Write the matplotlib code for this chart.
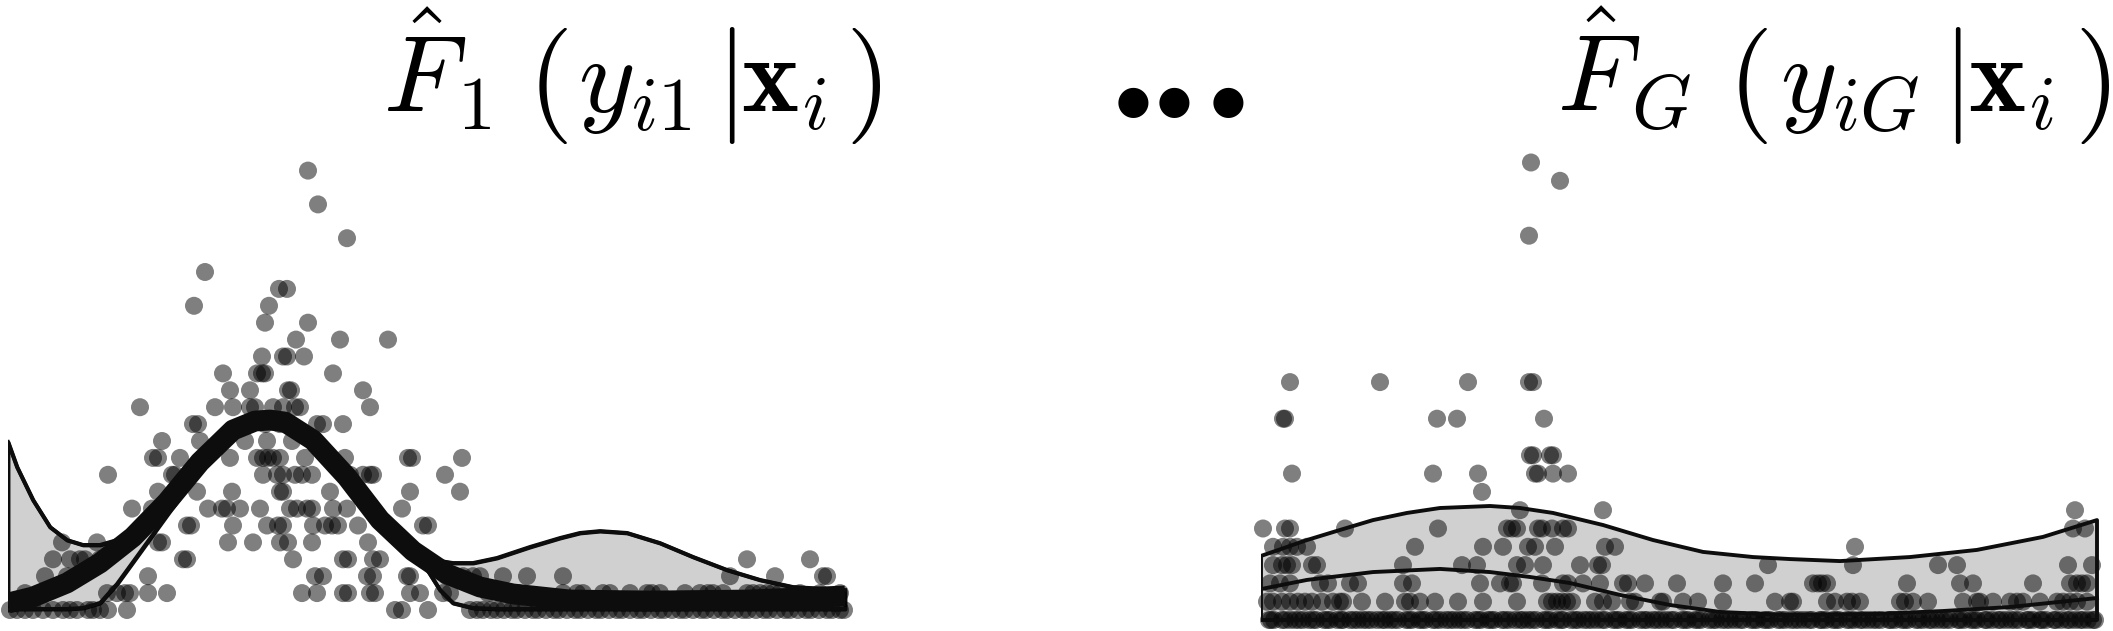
import matplotlib.pyplot as plt
import numpy as np

plt.rcParams['mathtext.fontset'] = 'cm'

# ---------------- left panel: F_1 (x position 0..84, y = count level) ----------------
f1_y0 = [0.2, 0.9, 1.7, 2.5, 3.5, 4.5, 5.5, 6.2, 6.9, 8.0, 8.5, 9.2, 10.0, 11.9, 38.7, 39.4,
         42.0, 46.2, 46.9, 47.5, 48.3, 48.9, 49.6, 50.4, 50.9, 51.7, 52.5, 53.0, 53.8, 54.6,
         55.1, 55.9, 56.7, 57.2, 58.0, 58.8, 59.3, 60.1, 60.9, 61.4, 62.2, 63.0, 63.5, 64.3,
         65.1, 65.6, 66.4, 67.2, 67.7, 68.5, 69.3, 69.8, 70.6, 71.4, 71.9, 72.7, 73.5, 74.0,
         74.8, 75.6, 76.1, 76.9, 77.7, 78.2, 79.0, 79.8, 80.3, 81.1, 81.9, 82.4, 83.2, 83.6]
f1_y1 = [1.7, 9.9, 10.9, 11.7, 12.2, 14.0, 15.9, 29.4, 30.9, 33.5, 34.0, 36.2, 36.7, 40.2,
         41.2, 43.5, 44.2, 48.0, 51.0, 55.5, 56.9, 57.5, 59.5, 60.2, 62.2, 63.9, 64.4, 65.2,
         67.7, 69.2, 70.0, 70.5, 71.5, 73.9, 74.5, 75.2, 75.9, 76.5, 77.2, 79.2, 81.2, 83.2]
f1_y2 = [3.7, 5.9, 14.0, 30.7, 31.5, 35.9, 36.5, 39.9, 40.2, 43.9, 45.5, 46.5, 47.2, 49.5,
         51.9, 55.5, 72.2, 76.7, 81.5, 81.9]
f1_y3 = [4.5, 6.2, 7.2, 7.7, 9.2, 17.5, 17.9, 28.5, 33.5, 34.0, 36.5, 37.2, 73.9, 80.2]
f1_y4 = [5.4, 8.9, 15.0, 15.4, 22.0, 24.5, 27.2, 28.0, 30.4, 36.0]
f1_y5 = [17.9, 18.3, 22.5, 25.9, 27.0, 27.5, 30.5, 31.7, 32.4, 33.0, 35.0, 41.5, 42.0]
f1_y6 = [12.4, 14.4, 20.0, 21.4, 21.9, 23.2, 25.2, 28.2, 28.9, 29.9, 30.4, 32.5, 33.9, 39.4]
f1_y7 = [15.0, 18.9, 22.4, 27.2, 27.5, 32.2, 40.2, 45.2]
f1_y8 = [10.0, 16.4, 16.7, 25.5, 26.9, 27.5, 28.7, 29.4, 30.4, 34.2, 35.5, 36.2, 36.5, 43.7]
f1_y9 = [14.5, 15.0, 17.2, 22.2, 24.9, 25.5, 26.0, 26.5, 27.2, 29.7, 33.7, 40.0, 40.4, 45.4]
f1_y10 = [15.4, 19.2, 23.7, 25.9, 28.4]
f1_y11 = [18.5, 19.0, 24.2, 25.7, 27.2, 30.9, 31.5, 33.5]
f1_y12 = [13.2, 20.7, 22.5, 24.2, 24.7, 26.5, 27.5, 28.7, 29.2, 36.2]
f1_y13 = [22.2, 24.2, 28.0, 28.3, 35.5]
f1_y14 = [21.5, 24.9, 25.4, 25.7, 32.5]
f1_y15 = [25.4, 27.5, 27.9, 29.6]
f1_y16 = [28.8, 33.2, 38.0]
f1_y17 = [25.7, 30.0]
f1_y18 = [18.6, 26.1]
f1_y19 = [27.1, 27.9]
f1_y20 = [19.7]
f1_y22 = [33.9]
f1_y24 = [31.0]
f1_y26 = [30.0]

# band (grey area) and fitted density for F_1
f1_band_x = [0, 0.9, 2.5, 4.2, 5.9, 7.5, 9.2, 10.9, 12.5, 15.9, 19.2, 22.5, 24.7, 26.2, 27.7,
             30.5, 33.9, 37.2, 40.5, 41.5, 43.2, 44.5, 46.5, 48.9, 52.2, 55.2, 57.2, 59.2,
             61.9, 65.2, 68.5, 71.9, 75.2, 78.5, 81.9, 83.7]
f1_band_hi = [9.94, 8.46, 6.51, 4.91, 4.14, 3.85, 3.85, 4.14, 4.32, 6.39, 8.76, 10.65, 11.18,
              11.24, 11.12, 10.06, 7.87, 5.33, 3.49, 3.20, 2.90, 2.78, 2.78, 3.08, 3.73, 4.26,
              4.56, 4.67, 4.56, 3.96, 3.14, 2.37, 1.78, 1.36, 1.24, 1.18]
f1_band_lo = [0, 0.06, 0.06, 0.06, 0.06, 0.12, 0.41, 1.54, 2.84, 5.62, 8.28, 10.36, 10.95,
              11.01, 10.89, 9.76, 7.57, 5.03, 3.20, 2.78, 1.18, 0.41, 0.12, 0.06, 0.06, 0.06,
              0.06, 0.06, 0.06, 0.06, 0.06, 0.06, 0.06, 0.06, 0.06, 0.06]
f1_fit_x = [0, 2.5, 5.9, 9.2, 12.5, 15.9, 19.2, 22.5, 24.7, 26.2, 27.7, 30.5, 33.9, 37.2,
            40.5, 43.9, 47.2, 50.5, 56.2, 64.2, 74.2, 83.7]
f1_fit_y = [0.41, 0.77, 1.60, 2.78, 4.32, 6.39, 8.76, 10.65, 11.18, 11.24, 11.12, 10.06,
            7.87, 5.33, 3.49, 2.13, 1.36, 0.95, 0.59, 0.53, 0.59, 0.83]

# ---------------- right panel: F_G ----------------
f2_y0 = [0.8, 1.3, 2.1, 2.9, 3.4, 4.2, 4.8, 5.5, 6.3, 6.9, 7.6, 8.2, 8.9, 9.7, 10.2, 11.0,
         11.6, 12.4, 12.9, 13.7, 14.5, 15.1, 15.8, 16.4, 17.2, 17.9, 18.5, 19.3, 19.8, 20.6,
         21.4, 22.0, 22.7, 23.3, 24.1, 24.8, 25.4, 26.2, 26.7, 27.5, 28.3, 28.9, 29.6, 30.2,
         31.0, 31.7, 32.3, 33.1, 33.6, 34.4, 35.2, 35.8, 36.5, 37.1, 37.9, 38.6, 39.2, 40.0,
         40.5, 41.3, 42.1, 42.7, 43.4, 44.0, 44.8, 45.5, 46.1, 46.9, 47.4, 48.2, 49.0, 49.6,
         50.3, 50.9, 51.7, 52.4, 53.0, 53.8, 54.3, 55.1, 55.9, 56.5, 57.2, 57.8, 58.6, 59.3,
         59.9, 60.7, 61.2, 62.0, 62.8, 63.4, 64.1, 64.7, 65.5, 66.2, 66.8, 67.6, 68.1, 68.9,
         69.7, 70.3, 71.0, 71.6, 72.4, 73.1, 73.7, 74.5, 75.0, 75.8, 76.6, 77.2, 77.9, 78.5,
         79.3, 80.0, 80.6, 81.4, 81.9, 82.7, 83.2]
# repeated zero counts (second layer on the bottom row)
f2_y0_rep = [1.0, 2.4, 3.8, 5.2, 6.6, 8.0, 9.3, 10.6, 12.1, 13.3, 14.8, 16.1, 17.5, 18.9,
             20.2, 21.7, 23.0, 24.4, 25.9, 27.1, 28.6, 30.0, 31.4, 32.7, 34.1, 35.5, 36.8,
             38.3, 39.6, 41.0, 42.4, 43.7, 45.2, 46.5, 47.9, 49.3, 50.6, 52.0, 53.4, 54.8,
             56.1, 57.5, 58.9, 60.2, 61.6, 63.0, 64.4, 65.8, 67.1, 68.5, 69.9, 71.3, 72.6,
             74.0, 75.4, 76.8, 78.1, 79.5, 80.9, 82.2, 83.4]
f2_y1 = [0.6, 1.2, 2.1, 2.9, 3.7, 4.4, 5.1, 6.1, 7.2, 7.9, 8.2, 10.1, 12.4, 14.4, 14.9, 15.9,
         17.4, 19.7, 22.2, 25.6, 28.6, 29.1, 29.6, 30.1, 30.6, 31.1, 33.4, 34.2, 35.1, 36.9,
         37.4, 39.9, 40.2, 42.2, 43.7, 46.2, 51.4, 52.9, 53.2, 56.6, 57.4, 58.6, 59.1, 59.9,
         63.9, 64.4, 65.2, 66.7, 70.2, 71.6, 71.9, 73.2, 74.9, 75.6, 76.2, 77.9, 79.6, 80.2,
         80.9, 81.6, 82.6]
f2_y2 = [0.9, 1.9, 2.9, 5.9, 6.7, 8.9, 9.7, 14.2, 15.1, 21.9, 23.9, 24.9, 25.2, 28.1, 30.2,
         30.7, 32.2, 33.9, 36.2, 36.7, 38.4, 41.6, 46.2, 49.4, 55.2, 55.7, 56.1, 56.6, 64.6,
         69.9, 71.2, 77.2, 80.9, 81.6, 82.1, 82.6]
f2_y3 = [1.2, 2.1, 2.6, 3.1, 5.1, 5.6, 14.2, 20.1, 21.6, 25.6, 26.4, 28.2, 31.9, 33.7, 34.1,
         50.7, 59.2, 67.7, 69.6, 80.7, 83.1]
f2_y4 = [1.2, 2.2, 2.9, 3.6, 4.6, 15.4, 22.2, 24.2, 26.7, 27.4, 29.4, 34.4, 35.4, 59.4]
f2_y5 = [0.2, 2.4, 2.9, 8.4, 17.7, 24.6, 25.1, 25.6, 27.7, 28.1, 29.1, 30.2, 30.7, 81.2, 82.4]
f2_y6 = [25.9, 34.2, 81.4]
f2_y7 = [22.1]
f2_y8 = [3.1, 17.2, 21.7, 27.4, 27.7, 29.2, 30.7]
f2_y9 = [26.9, 27.2, 28.9, 29.2]
f2_y11 = [2.2, 2.4, 17.6, 19.6, 28.3]
f2_y13 = [2.9, 11.9, 20.7, 26.8, 27.2]
f2_y21 = [26.8]
f2_y24 = [29.9]
f2_y25 = [27.0]

f2_band_x = [0, 4.6, 7.9, 11.2, 14.6, 17.9, 22.9, 25.9, 29.2, 34.2, 39.2, 44.2, 49.2, 52.9,
             57.9, 64.9, 71.6, 78.2, 83.6]
f2_band_hi = [3.50, 4.37, 4.92, 5.46, 5.85, 6.12, 6.23, 6.12, 5.85, 5.19, 4.37, 3.72, 3.44,
              3.33, 3.22, 3.44, 3.83, 4.54, 5.46]
f2_inner_x = [0, 4.6, 11.2, 17.9, 22.9, 26.9, 30.9, 35.9, 40.9, 45.9, 52.6, 61.6, 68.2,
              74.9, 83.6]
f2_inner_y = [1.69, 2.19, 2.62, 2.79, 2.62, 2.35, 2.02, 1.37, 0.82, 0.44, 0.27, 0.33, 0.49,
              0.71, 1.20]

f1_rows = [(0, f1_y0), (1, f1_y1), (2, f1_y2), (3, f1_y3), (4, f1_y4), (5, f1_y5),
           (6, f1_y6), (7, f1_y7), (8, f1_y8), (9, f1_y9), (10, f1_y10), (11, f1_y11),
           (12, f1_y12), (13, f1_y13), (14, f1_y14), (15, f1_y15), (16, f1_y16),
           (17, f1_y17), (18, f1_y18), (19, f1_y19), (20, f1_y20), (22, f1_y22),
           (24, f1_y24), (26, f1_y26)]
f2_rows = [(0, f2_y0), (0, f2_y0_rep), (1, f2_y1), (2, f2_y2), (3, f2_y3), (4, f2_y4),
           (5, f2_y5), (6, f2_y6), (7, f2_y7), (8, f2_y8), (9, f2_y9), (11, f2_y11),
           (13, f2_y13), (21, f2_y21), (24, f2_y24), (25, f2_y25)]

INK = '#0d0d0d'
FILL = '#d0d0d0'


def plot_dots(ax, rows) -> None:
    for level, xs in rows:
        ax.scatter(xs, np.full(len(xs), level), s=168, color='black', alpha=0.5,
                   edgecolors='none', zorder=2, clip_on=False)


W, H = 2113, 631
fig = plt.figure(figsize=(W / 100, H / 100), dpi=100)

# left panel
ax1 = fig.add_axes([8 / W, 4.1 / H, 840 / W, 28.5 * 16.9 / H])
ax1.set_xlim(0, 84)
ax1.set_ylim(-1, 27.5)
ax1.fill_between(f1_band_x, f1_band_lo, f1_band_hi, facecolor=FILL, edgecolor=INK,
                 linewidth=2.8, zorder=1)
plot_dots(ax1, f1_rows)
ax1.plot(f1_band_x, f1_band_hi, color=INK, lw=2.8, zorder=3)
ax1.plot(f1_band_x, f1_band_lo, color=INK, lw=2.8, zorder=3)
ax1.plot(f1_fit_x, f1_fit_y, color=INK, lw=15, solid_capstyle='butt',
         solid_joinstyle='round', zorder=4)
ax1.axis('off')

# right panel
ax2 = fig.add_axes([1261 / W, 1.85 / H, 840 / W, 26.5 * 18.3 / H])
ax2.set_xlim(0, 84)
ax2.set_ylim(-0.5, 26)
ax2.fill_between(f2_band_x, 0, f2_band_hi, facecolor=FILL, edgecolor='none', zorder=1)
plot_dots(ax2, f2_rows)
ax2.fill_between(f2_band_x, 0, f2_band_hi, facecolor='none', edgecolor=INK,
                 linewidth=2.8, zorder=3)
ax2.plot(f2_inner_x, f2_inner_y, color=INK, lw=2.8, zorder=3)
ax2.axis('off')

# titles: pieces laid out left to right, big delimiters centred on the math axis
renderer = fig.canvas.get_renderer()
BASE = H - 112      # baseline, pixels from bottom
AXIS = H - 86       # delimiter centre


def put_title(x0, pieces) -> None:
    x = x0
    for s, size, gap, delim in pieces:
        x += gap
        if delim:
            t = fig.text(x / W, AXIS / H, s, fontsize=size, ha='left', va='center')
        else:
            t = fig.text(x / W, BASE / H, s, fontsize=size, ha='left', va='baseline')
        x = t.get_window_extent(renderer).x1


put_title(383, [(r'$\hat{F}_1$', 78, 0, False), (r'$($', 84, 36, True),
                (r'$y_{i1}$', 78, 10, False), (r'$|$', 84, 24, True),
                (r'$\mathbf{x}_i$', 78, 5, False), (r'$)$', 84, 18, True)])
put_title(1557, [(r'$\hat{F}_G$', 78, 0, False), (r'$($', 84, 36, True),
                 (r'$y_{iG}$', 78, 12, False), (r'$|$', 84, 22, True),
                 (r'$\mathbf{x}_i$', 78, 6, False), (r'$)$', 84, 20, True)])
fig.text(1179 / W, 1 - 98 / H, r'$\bullet\!\bullet\!\bullet$', fontsize=56,
         ha='center', va='center')

fig.savefig('out.png', dpi=100)
